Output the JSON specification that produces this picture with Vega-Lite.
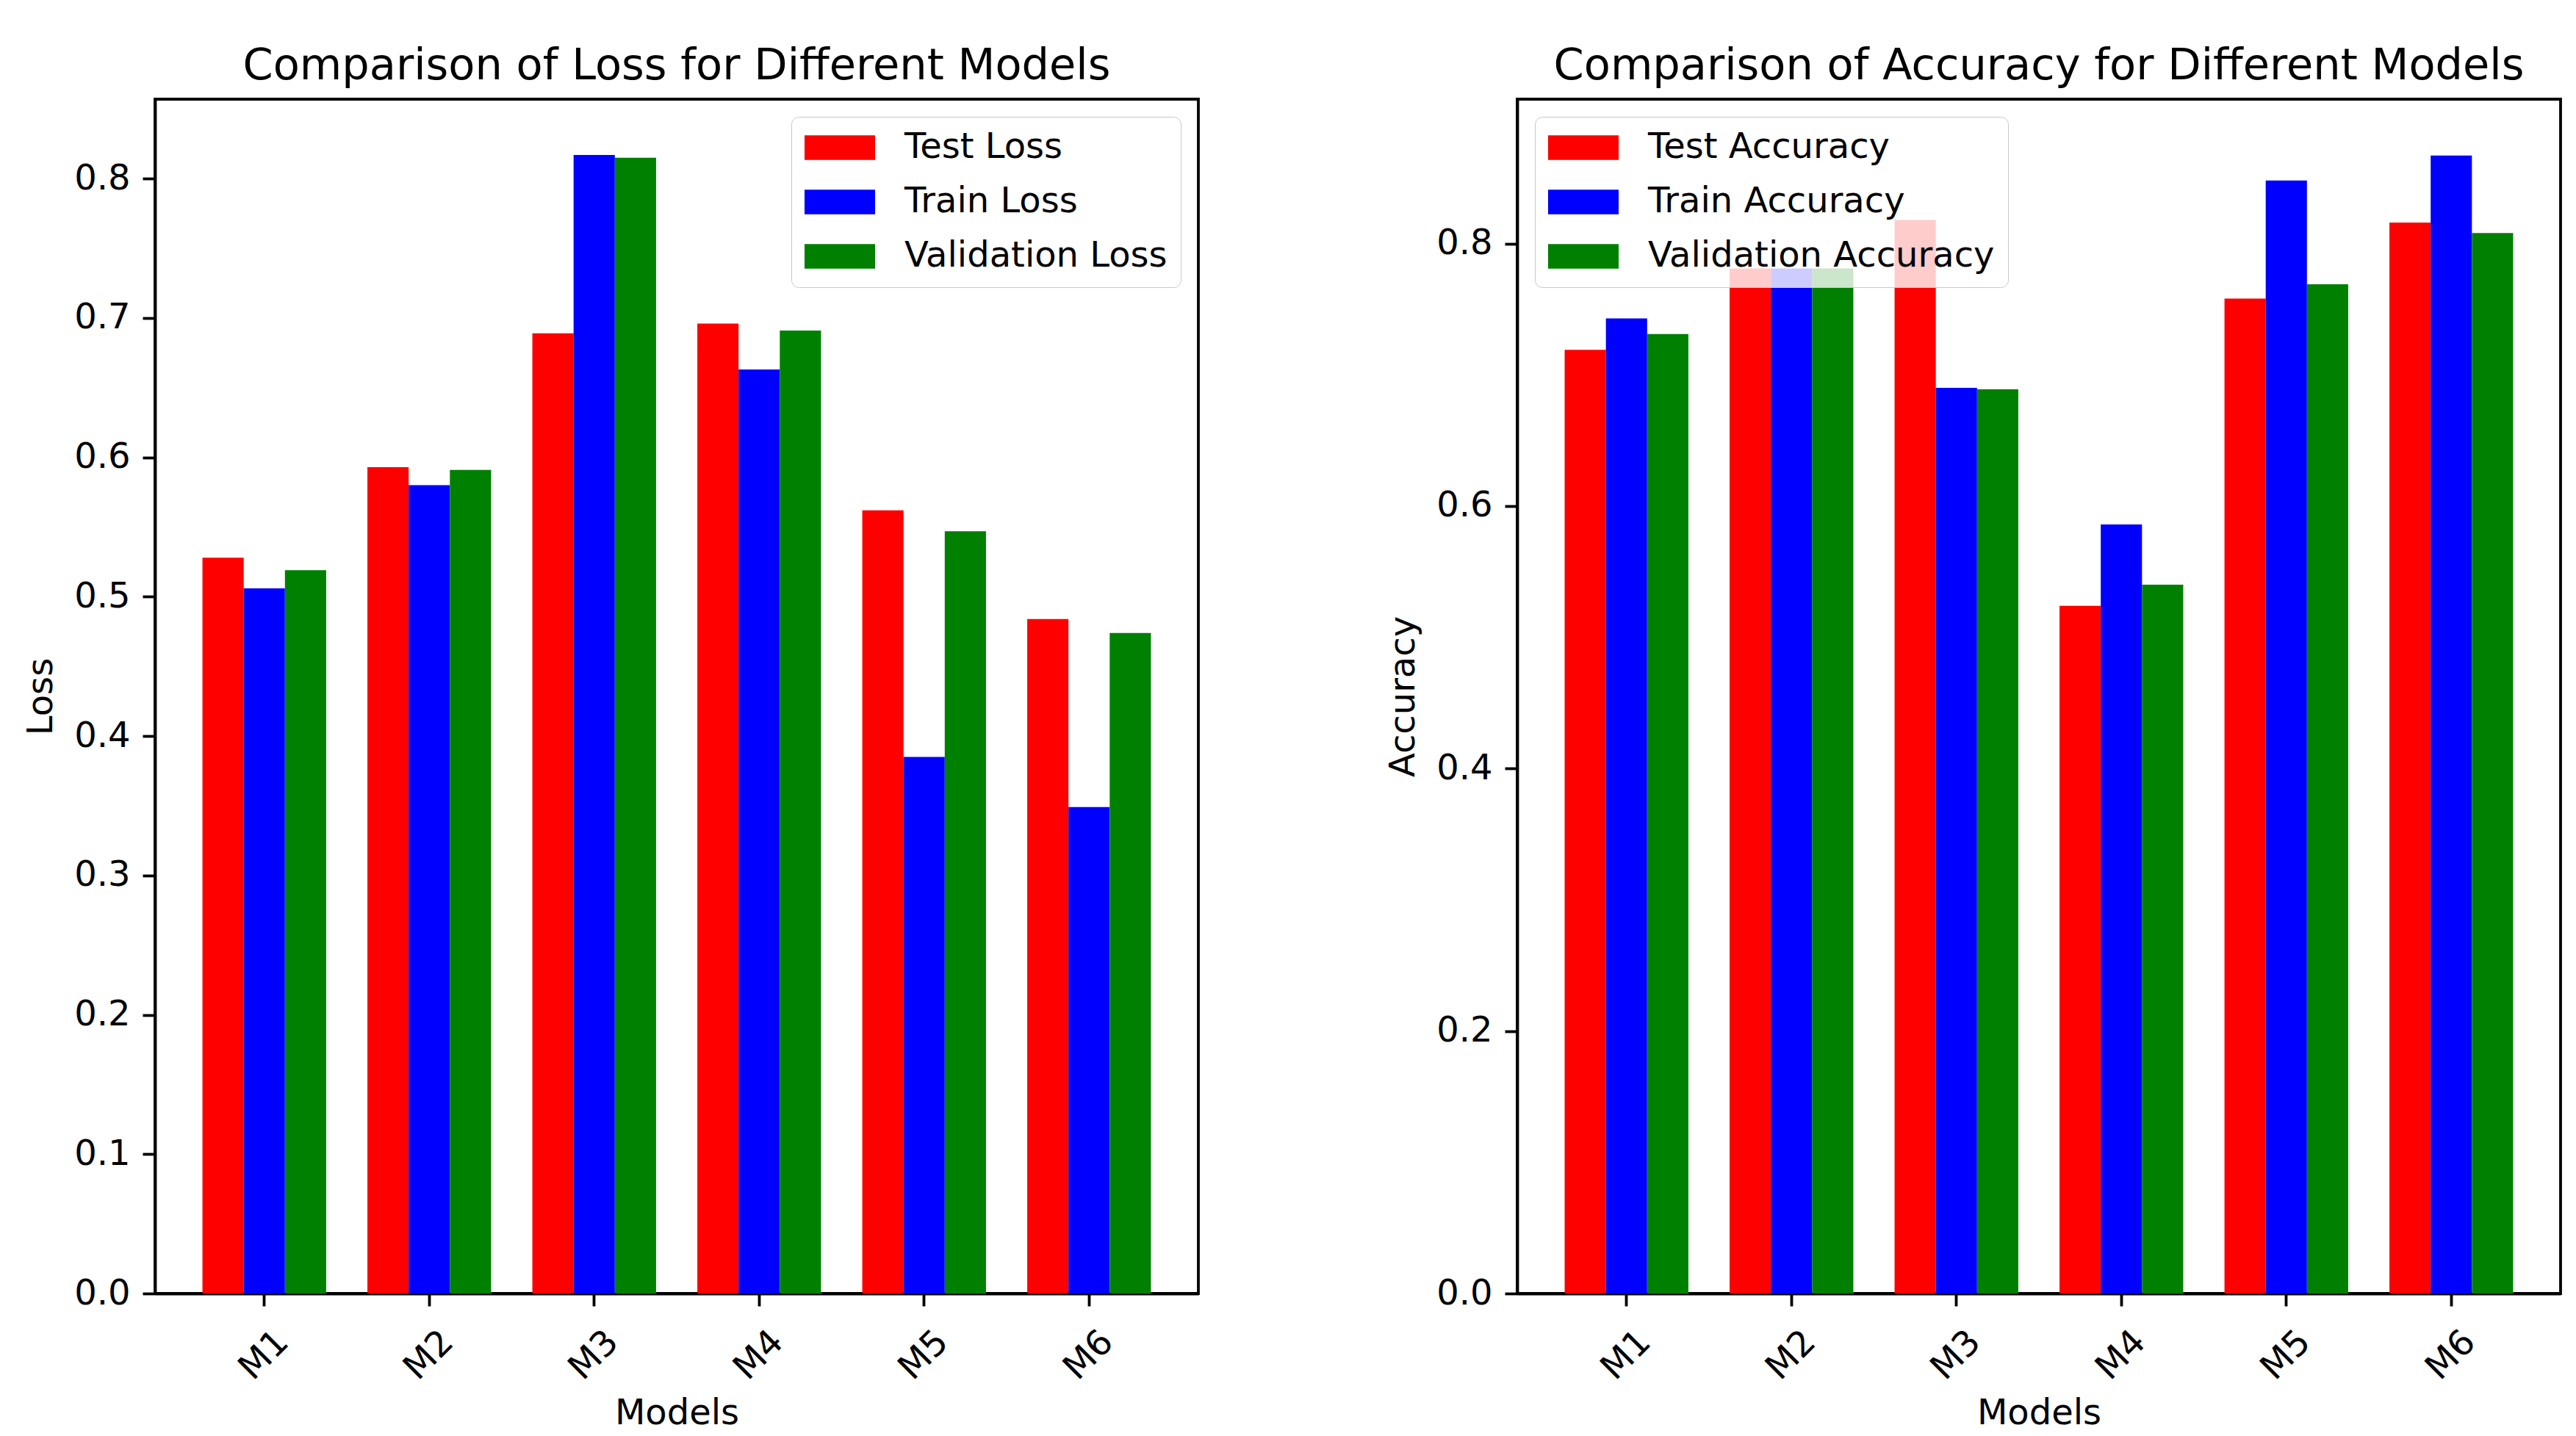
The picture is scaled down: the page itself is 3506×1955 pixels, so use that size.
{
  "$schema": "https://vega.github.io/schema/vega-lite/v6.json",
  "background": "white",
  "padding": {"left": 30, "top": 59, "right": 20, "bottom": 20},
  "autosize": {"type": "pad"},
  "bounds": "flush",
  "spacing": 434,
  "config": {
    "font": "DejaVu Sans",
    "view": {"stroke": "black", "strokeWidth": 3.8},
    "axis": {"domainColor": "black", "domainWidth": 3.8, "tickColor": "black", "tickWidth": 3.8, "tickSize": 17, "labelFontSize": 48, "labelColor": "black", "titleFontSize": 48, "titleFontWeight": "normal", "titleColor": "black", "grid": false, "labelFont": "DejaVu Sans", "titleFont": "DejaVu Sans"},
    "title": {"fontSize": 59, "fontWeight": "normal", "font": "DejaVu Sans", "color": "black", "offset": 15},
    "legend": {"labelFontSize": 48, "labelFont": "DejaVu Sans", "labelColor": "black", "labelLimit": 1000}
  },
  "datasets": {
    "loss": [
      {"model": "M1", "metric": "Test Loss", "value": 0.528},
      {"model": "M1", "metric": "Train Loss", "value": 0.506},
      {"model": "M1", "metric": "Validation Loss", "value": 0.519},
      {"model": "M2", "metric": "Test Loss", "value": 0.593},
      {"model": "M2", "metric": "Train Loss", "value": 0.580},
      {"model": "M2", "metric": "Validation Loss", "value": 0.591},
      {"model": "M3", "metric": "Test Loss", "value": 0.689},
      {"model": "M3", "metric": "Train Loss", "value": 0.817},
      {"model": "M3", "metric": "Validation Loss", "value": 0.815},
      {"model": "M4", "metric": "Test Loss", "value": 0.696},
      {"model": "M4", "metric": "Train Loss", "value": 0.663},
      {"model": "M4", "metric": "Validation Loss", "value": 0.691},
      {"model": "M5", "metric": "Test Loss", "value": 0.562},
      {"model": "M5", "metric": "Train Loss", "value": 0.385},
      {"model": "M5", "metric": "Validation Loss", "value": 0.547},
      {"model": "M6", "metric": "Test Loss", "value": 0.484},
      {"model": "M6", "metric": "Train Loss", "value": 0.349},
      {"model": "M6", "metric": "Validation Loss", "value": 0.474}
    ],
    "acc": [
      {"model": "M1", "metric": "Test Accuracy", "value": 0.719},
      {"model": "M1", "metric": "Train Accuracy", "value": 0.743},
      {"model": "M1", "metric": "Validation Accuracy", "value": 0.731},
      {"model": "M2", "metric": "Test Accuracy", "value": 0.781},
      {"model": "M2", "metric": "Train Accuracy", "value": 0.781},
      {"model": "M2", "metric": "Validation Accuracy", "value": 0.781},
      {"model": "M3", "metric": "Test Accuracy", "value": 0.818},
      {"model": "M3", "metric": "Train Accuracy", "value": 0.690},
      {"model": "M3", "metric": "Validation Accuracy", "value": 0.689},
      {"model": "M4", "metric": "Test Accuracy", "value": 0.524},
      {"model": "M4", "metric": "Train Accuracy", "value": 0.586},
      {"model": "M4", "metric": "Validation Accuracy", "value": 0.540},
      {"model": "M5", "metric": "Test Accuracy", "value": 0.758},
      {"model": "M5", "metric": "Train Accuracy", "value": 0.848},
      {"model": "M5", "metric": "Validation Accuracy", "value": 0.769},
      {"model": "M6", "metric": "Test Accuracy", "value": 0.816},
      {"model": "M6", "metric": "Train Accuracy", "value": 0.867},
      {"model": "M6", "metric": "Validation Accuracy", "value": 0.808}
    ]
  },
  "resolve": {"scale": {"color": "independent", "x": "independent", "y": "independent", "xOffset": "independent"}, "legend": {"color": "independent"}},
  "hconcat": [
    {
      "data": {"name": "loss"},
      "title": "Comparison of Loss for Different Models",
      "width": 1420,
      "height": 1626,
      "mark": {"type": "bar"},
      "encoding": {
        "x": {"field": "model", "type": "nominal", "scale": {"paddingInner": 0.25, "paddingOuter": 0.2875},
          "axis": {"title": "Models", "labelAngle": -45, "labelAlign": "center", "labelBaseline": "middle", "labelPadding": 67, "titlePadding": 13}},
        "xOffset": {"field": "metric", "type": "nominal", "scale": {"paddingInner": 0, "paddingOuter": 0}},
        "y": {"field": "value", "type": "quantitative", "scale": {"domain": [0, 0.857], "nice": false},
          "axis": {"title": "Loss", "values": [0, 0.1, 0.2, 0.3, 0.4, 0.5, 0.6, 0.7, 0.8], "format": ".1f", "labelPadding": 17, "titlePadding": 20}},
        "color": {"field": "metric", "type": "nominal", "scale": {"range": ["#ff0000", "#0000ff", "#008000"]},
          "legend": {"title": null, "orient": "top-right", "offset": 24, "symbolType": "M-2,-0.7L2,-0.7L2,0.7L-2,0.7Z", "symbolSize": 2304, "symbolOffset": 24, "symbolStrokeWidth": 0, "symbolOpacity": 1, "labelOffset": 64, "rowPadding": 26, "padding": 18, "fillColor": "rgba(255,255,255,0.8)", "strokeColor": "#c8c8c8", "cornerRadius": 10}}
      }
    },
    {
      "data": {"name": "acc"},
      "title": "Comparison of Accuracy for Different Models",
      "width": 1420,
      "height": 1626,
      "mark": {"type": "bar"},
      "encoding": {
        "x": {"field": "model", "type": "nominal", "scale": {"paddingInner": 0.25, "paddingOuter": 0.2875},
          "axis": {"title": "Models", "labelAngle": -45, "labelAlign": "center", "labelBaseline": "middle", "labelPadding": 67, "titlePadding": 13}},
        "xOffset": {"field": "metric", "type": "nominal", "scale": {"paddingInner": 0, "paddingOuter": 0}},
        "y": {"field": "value", "type": "quantitative", "scale": {"domain": [0, 0.910], "nice": false},
          "axis": {"title": "Accuracy", "values": [0, 0.2, 0.4, 0.6, 0.8], "format": ".1f", "labelPadding": 17, "titlePadding": 20}},
        "color": {"field": "metric", "type": "nominal", "scale": {"range": ["#ff0000", "#0000ff", "#008000"]},
          "legend": {"title": null, "orient": "top-left", "offset": 24, "symbolType": "M-2,-0.7L2,-0.7L2,0.7L-2,0.7Z", "symbolSize": 2304, "symbolOffset": 24, "symbolStrokeWidth": 0, "symbolOpacity": 1, "labelOffset": 64, "rowPadding": 26, "padding": 18, "fillColor": "rgba(255,255,255,0.8)", "strokeColor": "#c8c8c8", "cornerRadius": 10}}
      }
    }
  ]
}
